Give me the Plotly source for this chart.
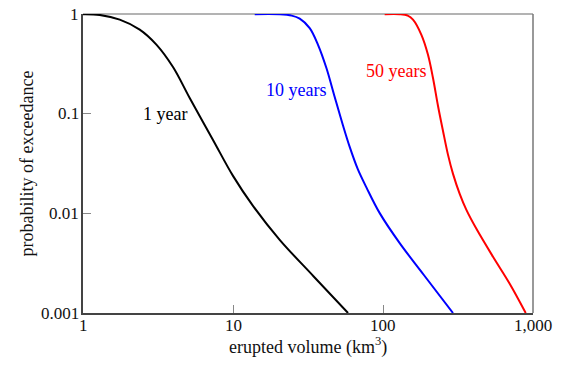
import math
import plotly.graph_objects as go

# Erupted volume (km^3) and probability of exceedance
vol_1yr = [1.0, 1.292, 1.757, 2.388, 3.085, 3.981, 5.144, 7.357, 10.0, 13.59, 20.48, 34.51, 58.45]
p_1yr = [0.995, 0.979, 0.879, 0.698, 0.4935, 0.2938, 0.1437, 0.0545, 0.02375, 0.01189, 0.005426, 0.002326, 0.001]

vol_10yr = [13.96, 20.48, 24.62, 27.85, 32.46, 36.88, 41.95, 47.64, 54.11, 59.98, 67.81, 77.5, 95.07, 129.2, 186.7, 292.9]
p_10yr = [0.995, 0.993, 0.9637, 0.899, 0.7224, 0.4912, 0.287, 0.147, 0.07616, 0.04638, 0.02791, 0.01822, 0.01005, 0.005027, 0.00242, 0.001]

vol_50yr = [102.6, 129.2, 146.1, 158.5, 180.3, 199.5, 215.4, 232.7, 251.2, 271.3, 292.9, 324.6, 359.7, 419.5, 541.2, 699.3, 894.2]
p_50yr = [0.995, 0.995, 0.9637, 0.879, 0.6187, 0.3902, 0.2279, 0.1195, 0.0671, 0.03858, 0.02488, 0.01568, 0.01084, 0.006994, 0.003665, 0.001966, 0.001]

series_names = ["1 year", "10 years", "50 years"]
series_colors = ["#000000", "#0000ff", "#ff0000"]
label_pos_vol = [3.5, 26.2, 121.6]
label_pos_p = [0.1, 0.174, 0.269]

x_tickvals = [1, 10, 100, 1000]
x_ticktext = ["1", "10", "100", "1,000"]
y_tickvals = [0.001, 0.01, 0.1, 1]
y_ticktext = ["0.001", "0.01", "0.1", "1"]

x_title = "erupted volume (km<sup>3</sup>)"
y_title = "probability of exceedance"

FONT = "Liberation Serif"
TXT = "#111111"

fig = go.Figure()
for vx, py, col in zip([vol_1yr, vol_10yr, vol_50yr], [p_1yr, p_10yr, p_50yr], series_colors):
    fig.add_trace(go.Scatter(x=vx, y=py, mode="lines",
                             line=dict(color=col, width=2, shape="spline", smoothing=1.0),
                             showlegend=False, hoverinfo="skip"))

for name, col, lx, ly in zip(series_names, series_colors, label_pos_vol, label_pos_p):
    fig.add_annotation(x=math.log10(lx), y=math.log10(ly), text=name, showarrow=False,
                       font=dict(family=FONT, size=18, color=col), xanchor="center", yanchor="middle")

# tick labels placed on the axes' own scales
for v, t in zip(x_tickvals, x_ticktext):
    fig.add_annotation(x=math.log10(v), xref="x", y=0, yref="paper", text=t, showarrow=False,
                       xanchor="center", yanchor="top", yshift=-1,
                       font=dict(family=FONT, size=17, color=TXT))
for v, t in zip(y_tickvals, y_ticktext):
    fig.add_annotation(x=0, xref="paper", y=math.log10(v), yref="y", text=t, showarrow=False,
                       xanchor="right", yanchor="middle", xshift=-2,
                       font=dict(family=FONT, size=17, color=TXT))

# axis titles
fig.add_annotation(x=0.5, xref="paper", y=0, yref="paper", text=x_title, showarrow=False,
                   xanchor="center", yanchor="middle", yshift=-33,
                   font=dict(family=FONT, size=18, color=TXT))
fig.add_annotation(x=0, xref="paper", y=0.5, yref="paper", text=y_title, showarrow=False,
                   textangle=-90, xanchor="center", yanchor="middle", xshift=-57,
                   font=dict(family=FONT, size=18, color=TXT))

# frame: left/bottom darker, top/right lighter
fig.add_shape(type="line", xref="paper", yref="paper", x0=0, x1=1, y0=1, y1=1,
              line=dict(color="#9a9a9a", width=1.5), layer="below")
fig.add_shape(type="line", xref="paper", yref="paper", x0=1, x1=1, y0=0, y1=1,
              line=dict(color="#777777", width=1.5), layer="below")

fig.update_xaxes(type="log", range=[0, 3], tickvals=x_tickvals, showticklabels=False,
                 ticks="inside", ticklen=8, tickwidth=1, tickcolor="#888888",
                 showline=True, linecolor="#444444", linewidth=1.5,
                 showgrid=False, zeroline=False, automargin=False)
fig.update_yaxes(type="log", range=[-3, 0], tickvals=y_tickvals, showticklabels=False,
                 ticks="inside", ticklen=8, tickwidth=1, tickcolor="#888888",
                 showline=True, linecolor="#444444", linewidth=1.5,
                 showgrid=False, zeroline=False, automargin=False)

fig.update_layout(width=567, height=366, margin=dict(l=83, r=34, t=14, b=53),
                  paper_bgcolor="white", plot_bgcolor="white")

fig.write_html("out.html", config={"displayModeBar": False},
               post_script="document.body.style.margin='0px';")
